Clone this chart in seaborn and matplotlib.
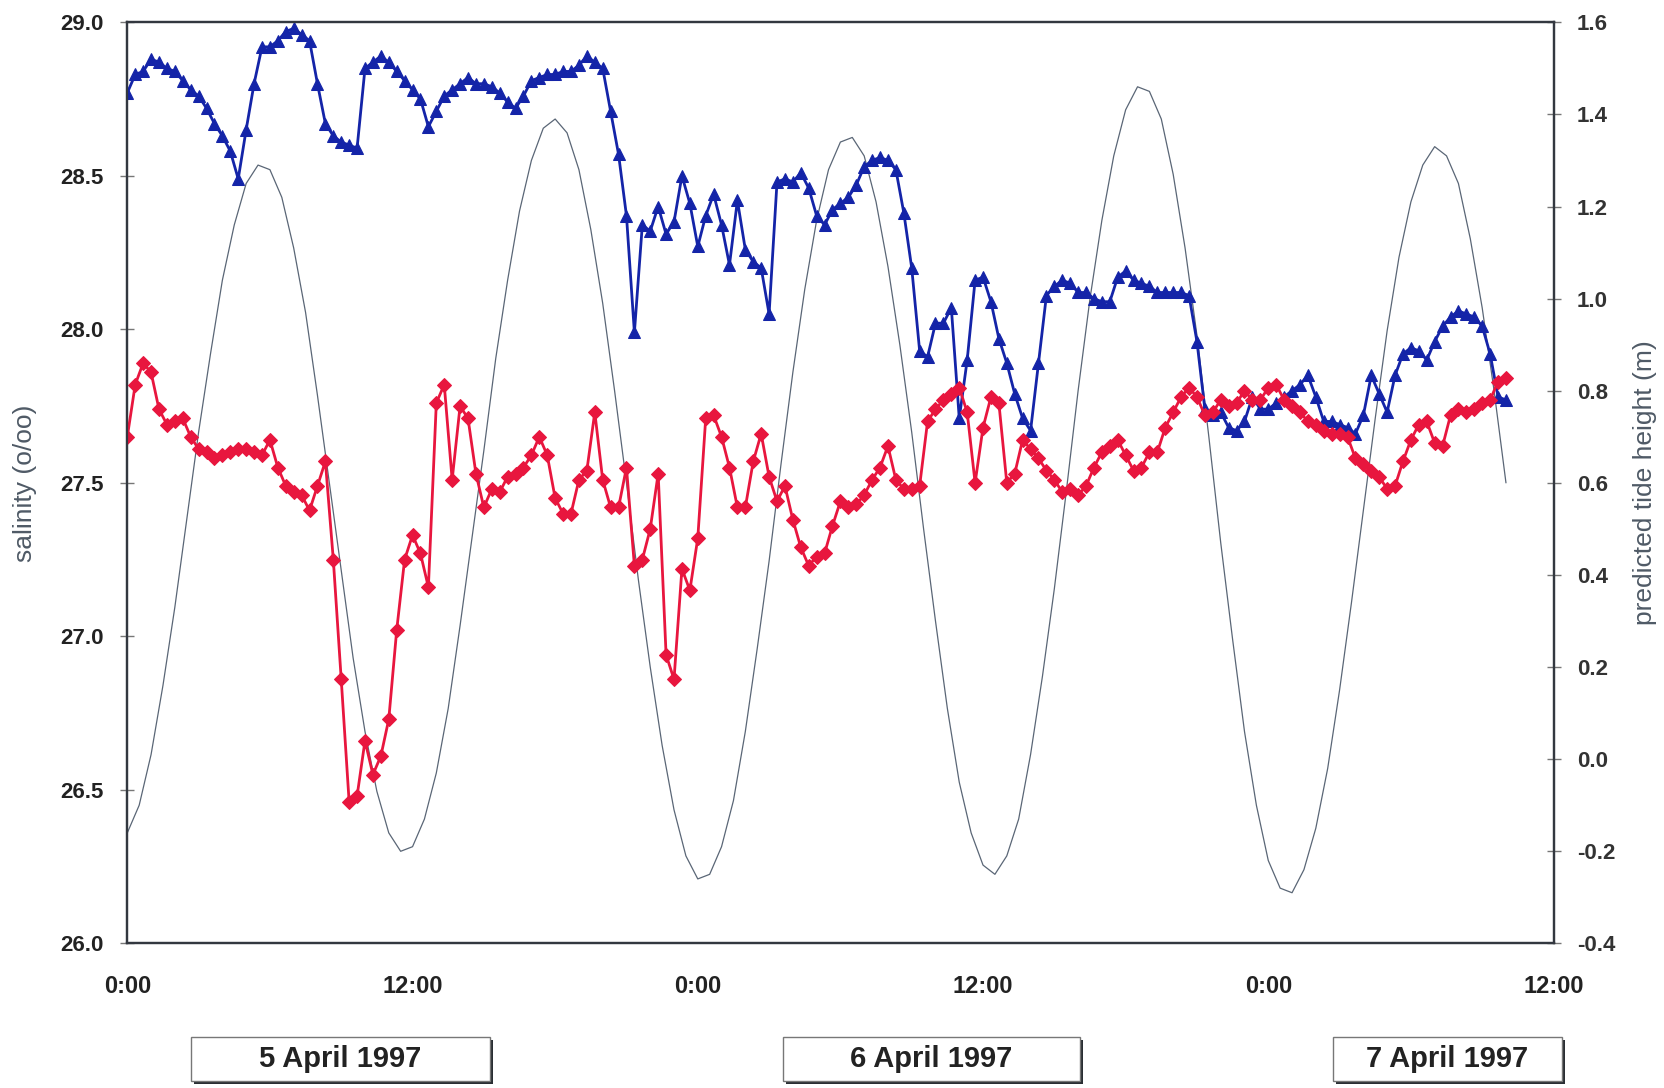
import numpy as np
import pandas as pd
import matplotlib
matplotlib.use("Agg")
import matplotlib.pyplot as plt
from matplotlib.patches import Rectangle
import seaborn as sns

# Salinity readings, one every 20 minutes from 0:00 on 5 April 1997
sample_minutes = 20
salinity_a = [
    28.77, 28.83, 28.84, 28.88, 28.87, 28.85, 28.84, 28.81, 28.78, 28.76,
    28.72, 28.67, 28.63, 28.58, 28.49, 28.65, 28.80, 28.92, 28.92, 28.94,
    28.97, 28.98, 28.96, 28.94, 28.80, 28.67, 28.63, 28.61, 28.60, 28.59,
    28.85, 28.87, 28.89, 28.87, 28.84, 28.81, 28.78, 28.75, 28.66, 28.71,
    28.76, 28.78, 28.80, 28.82, 28.80, 28.80, 28.79, 28.77, 28.74, 28.72,
    28.76, 28.81, 28.82, 28.83, 28.83, 28.84, 28.84, 28.86, 28.89, 28.87,
    28.85, 28.71, 28.57, 28.37, 27.99, 28.34, 28.32, 28.40, 28.31, 28.35,
    28.50, 28.41, 28.27, 28.37, 28.44, 28.34, 28.21, 28.42, 28.26, 28.22,
    28.20, 28.05, 28.48, 28.49, 28.48, 28.51, 28.46, 28.37, 28.34, 28.39,
    28.41, 28.43, 28.47, 28.53, 28.55, 28.56, 28.55, 28.52, 28.38, 28.20,
    27.93, 27.91, 28.02, 28.02, 28.07, 27.71, 27.90, 28.16, 28.17, 28.09,
    27.97, 27.89, 27.79, 27.71, 27.67, 27.89, 28.11, 28.14, 28.16, 28.15,
    28.12, 28.12, 28.10, 28.09, 28.09, 28.17, 28.19, 28.16, 28.15, 28.14,
    28.12, 28.12, 28.12, 28.12, 28.11, 27.96, 27.74, 27.72, 27.73, 27.68,
    27.67, 27.70, 27.78, 27.74, 27.74, 27.76, 27.78, 27.80, 27.82, 27.85,
    27.78, 27.70, 27.70, 27.69, 27.68, 27.66, 27.72, 27.85, 27.79, 27.73,
    27.85, 27.92, 27.94, 27.93, 27.90, 27.96, 28.01, 28.04, 28.06, 28.05,
    28.04, 28.01, 27.92, 27.78, 27.77,
]
salinity_b = [
    27.65, 27.82, 27.89, 27.86, 27.74, 27.69, 27.70, 27.71, 27.65, 27.61,
    27.60, 27.58, 27.59, 27.60, 27.61, 27.61, 27.60, 27.59, 27.64, 27.55,
    27.49, 27.47, 27.46, 27.41, 27.49, 27.57, 27.25, 26.86, 26.46, 26.48,
    26.66, 26.55, 26.61, 26.73, 27.02, 27.25, 27.33, 27.27, 27.16, 27.76,
    27.82, 27.51, 27.75, 27.71, 27.53, 27.42, 27.48, 27.47, 27.52, 27.53,
    27.55, 27.59, 27.65, 27.59, 27.45, 27.40, 27.40, 27.51, 27.54, 27.73,
    27.51, 27.42, 27.42, 27.55, 27.23, 27.25, 27.35, 27.53, 26.94, 26.86,
    27.22, 27.15, 27.32, 27.71, 27.72, 27.65, 27.55, 27.42, 27.42, 27.57,
    27.66, 27.52, 27.44, 27.49, 27.38, 27.29, 27.23, 27.26, 27.27, 27.36,
    27.44, 27.42, 27.43, 27.46, 27.51, 27.55, 27.62, 27.51, 27.48, 27.48,
    27.49, 27.70, 27.74, 27.77, 27.79, 27.81, 27.73, 27.50, 27.68, 27.78,
    27.76, 27.50, 27.53, 27.64, 27.61, 27.58, 27.54, 27.51, 27.47, 27.48,
    27.46, 27.49, 27.55, 27.60, 27.62, 27.64, 27.59, 27.54, 27.55, 27.60,
    27.60, 27.68, 27.73, 27.78, 27.81, 27.78, 27.72, 27.73, 27.77, 27.75,
    27.76, 27.80, 27.77, 27.77, 27.81, 27.82, 27.77, 27.75, 27.73, 27.70,
    27.69, 27.67, 27.66, 27.66, 27.65, 27.58, 27.56, 27.54, 27.52, 27.48,
    27.49, 27.57, 27.64, 27.69, 27.70, 27.63, 27.62, 27.72, 27.74, 27.73,
    27.74, 27.76, 27.77, 27.83, 27.84,
]

# Predicted tide height (m), every 30 minutes from 0:00 on 5 April 1997
tide_step_minutes = 30
tide_height = [
    -0.16, -0.10, 0.01, 0.16, 0.33, 0.52, 0.71, 0.88, 1.04, 1.16, 1.25, 1.29,
    1.28, 1.22, 1.11, 0.97, 0.79, 0.60, 0.41, 0.22, 0.06, -0.07, -0.16, -0.20,
    -0.19, -0.13, -0.03, 0.11, 0.29, 0.48, 0.67, 0.87, 1.04, 1.19, 1.30, 1.37,
    1.39, 1.36, 1.28, 1.15, 0.99, 0.80, 0.60, 0.39, 0.20, 0.03, -0.11, -0.21,
    -0.26, -0.25, -0.19, -0.09, 0.06, 0.24, 0.43, 0.64, 0.84, 1.02, 1.17, 1.28,
    1.34, 1.35, 1.31, 1.21, 1.07, 0.90, 0.71, 0.50, 0.30, 0.11, -0.05, -0.16,
    -0.23, -0.25, -0.21, -0.13, 0.01, 0.18, 0.37, 0.58, 0.80, 1.00, 1.17, 1.31,
    1.41, 1.46, 1.45, 1.39, 1.27, 1.11, 0.92, 0.70, 0.47, 0.26, 0.06, -0.10,
    -0.22, -0.28, -0.29, -0.24, -0.15, -0.02, 0.15, 0.34, 0.54, 0.74, 0.93, 1.09,
    1.21, 1.29, 1.33, 1.31, 1.25, 1.13, 0.98, 0.80, 0.60,
]

x_ticks = [0, 12, 24, 36, 48, 60]
x_tick_labels = ["0:00", "12:00", "0:00", "12:00", "0:00", "12:00"]
sal_ticks = [26.0, 26.5, 27.0, 27.5, 28.0, 28.5, 29.0]
tide_ticks = [-0.4, -0.2, 0.0, 0.2, 0.4, 0.6, 0.8, 1.0, 1.2, 1.4, 1.6]
day_labels = ["5 April 1997", "6 April 1997", "7 April 1997"]

hours = np.arange(len(salinity_a)) * sample_minutes / 60.0
tide_hours = np.arange(len(tide_height)) * tide_step_minutes / 60.0
sal_df = pd.DataFrame({"hours": hours, "a": salinity_a, "b": salinity_b})
tide_df = pd.DataFrame({"hours": tide_hours, "tide": tide_height})

sns.set_theme(style="white")
plt.rcParams["font.family"] = ["Liberation Sans", "DejaVu Sans"]

BLUE = "#1424a8"
RED = "#e8163e"
TIDE = "#5a6676"
AXIS = "#333840"

fig = plt.figure(figsize=(16.64, 10.88), dpi=100)
ax = fig.add_axes([0.0765, 0.1329, 0.8571, 0.8466])
ax2 = ax.twinx()

# tide curve on the right-hand axis, kept underneath the salinity series
sns.lineplot(data=tide_df, x="hours", y="tide", ax=ax2, color=TIDE,
             linewidth=0.9, estimator=None, sort=False)
ax.set_zorder(ax2.get_zorder() + 1)
ax.patch.set_visible(False)

sns.lineplot(data=sal_df, x="hours", y="a", ax=ax, color=BLUE, linewidth=2.0,
             marker="^", markersize=9, markeredgecolor=BLUE,
             markerfacecolor=BLUE, estimator=None, sort=False)
sns.lineplot(data=sal_df, x="hours", y="b", ax=ax, color=RED, linewidth=2.0,
             marker="D", markersize=7, markeredgecolor=RED,
             markerfacecolor=RED, estimator=None, sort=False)

ax.set_xlim(0, 60)
ax.set_ylim(26.0, 29.0)
ax2.set_ylim(-0.4, 1.6)

ax.set_xticks(x_ticks)
ax.set_xticklabels(x_tick_labels)
ax.set_yticks(sal_ticks)
ax.set_yticklabels([f"{v:.1f}" for v in sal_ticks])
ax2.set_yticks(tide_ticks)
ax2.set_yticklabels([f"{v:.1f}" for v in tide_ticks])

for a in (ax, ax2):
    for s in a.spines.values():
        s.set_color(AXIS)
        s.set_linewidth(1.6)
    a.grid(False)

ax.tick_params(axis="x", direction="inout", length=10, width=1, color="#777777",
               pad=18, labelsize=17, labelcolor="#222222")
ax.tick_params(axis="y", direction="inout", length=10, width=1, color="#777777",
               pad=12, labelsize=16, labelcolor="#222222")
ax2.tick_params(axis="y", direction="inout", length=10, width=1, color="#777777",
                pad=12, labelsize=16, labelcolor="#333333")
for lab in ax.get_xticklabels() + ax.get_yticklabels() + ax2.get_yticklabels():
    lab.set_fontweight("bold")

ax.set_xlabel("")
ax.set_ylabel("salinity (o/oo)", fontsize=19, color="#4f5a66")
ax2.set_ylabel("predicted tide height (m)", fontsize=19, color="#4f5a66")
ax.yaxis.set_label_coords(-0.063, 0.5)
ax2.yaxis.set_label_coords(1.056, 0.5)

# day captions in shadowed boxes below the time axis
W, H = 1664.0, 1088.0
boxes = [(191, 490), (783, 1080), (1333, 1562)]
top, bottom = 1037, 1081
for (x0, x1), text in zip(boxes, day_labels):
    shadow = Rectangle(((x0 + 3) / W, 1 - (bottom + 3) / H), (x1 - x0) / W,
                       (bottom - top) / H, transform=fig.transFigure,
                       facecolor="#2a2e33", edgecolor="none", zorder=1)
    box = Rectangle((x0 / W, 1 - bottom / H), (x1 - x0) / W, (bottom - top) / H,
                    transform=fig.transFigure, facecolor="white",
                    edgecolor="#777777", linewidth=1.0, zorder=2)
    fig.add_artist(shadow)
    fig.add_artist(box)
    fig.text((x0 + x1) / 2 / W, 1 - (top + bottom) / 2 / H, text,
             ha="center", va="center", fontsize=21, fontweight="bold",
             color="#222222", zorder=3)

fig.savefig("out.png", dpi=100, facecolor="white")
